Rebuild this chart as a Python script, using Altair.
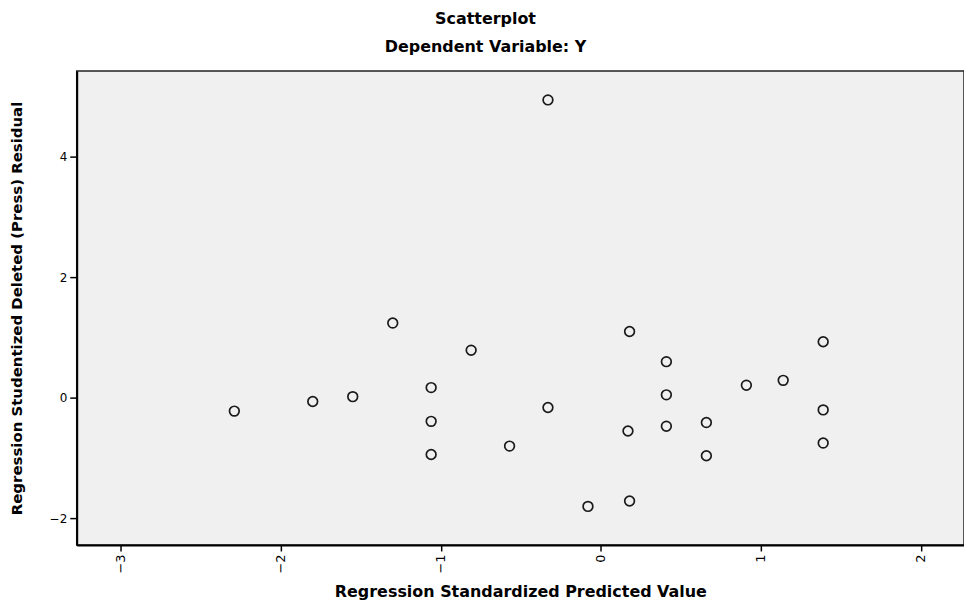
import altair as alt
import pandas as pd

# Regression Standardized Predicted Value
pred = [-0.33, -1.30, -0.81, -1.06, -1.06, -1.06, -2.29, -1.80, -1.55, -0.57,
        -0.33, 0.18, 0.41, 0.41, 0.41, 1.39, 0.91, 1.14, 1.39, 1.39,
        0.66, 0.66, 0.17, -0.08, 0.18]
# Regression Studentized Deleted (Press) Residual
resid = [4.94, 1.24, 0.79, 0.17, -0.39, -0.94, -0.22, -0.06, 0.02, -0.80,
         -0.16, 1.10, 0.60, 0.05, -0.47, 0.93, 0.21, 0.29, -0.20, -0.75,
         -0.41, -0.96, -0.55, -1.80, -1.71]

x_ticks = [-3, -2, -1, 0, 1, 2]
y_ticks = [-2, 0, 2, 4]
x_domain = [-3.275, 2.27]
y_domain = [-2.44, 5.42]

df = pd.DataFrame({"pred": pred, "resid": resid})

FONT = "DejaVu Sans"

points = alt.Chart(df).mark_point(
    filled=False, size=95, strokeWidth=1.7, color="#1a1a1a", opacity=1
).encode(
    x=alt.X(
        "pred:Q",
        scale=alt.Scale(domain=x_domain, nice=False, zero=False),
        axis=alt.Axis(
            values=x_ticks, grid=False, title="Regression Standardized Predicted Value",
            labelAngle=-90, labelFontSize=13, labelPadding=3, tickSize=6,
            titlePadding=11, titleFontSize=16,
        ),
    ),
    y=alt.Y(
        "resid:Q",
        scale=alt.Scale(domain=y_domain, nice=False, zero=False),
        axis=alt.Axis(
            values=y_ticks, grid=False,
            title="Regression Studentized Deleted (Press) Residual",
            labelFontSize=12, labelPadding=3, tickSize=7,
            titlePadding=25, titleFontSize=15,
        ),
    ),
)

chart = points.properties(
    width=891,
    height=476,
    title=alt.TitleParams(
        text="Scatterplot",
        subtitle="Dependent Variable: Y",
        anchor="middle",
        dx=-35,
        offset=16,
        font=FONT,
        fontSize=16,
        fontWeight="bold",
        color="#000000",
        subtitleFont=FONT,
        subtitleFontSize=16,
        subtitleFontWeight="bold",
        subtitleColor="#000000",
        subtitlePadding=12,
    ),
    autosize=alt.AutoSizeParams(type="none"),
    padding={"left": 69, "top": 62, "right": 0, "bottom": 54},
    background="#ffffff",
).configure_view(
    fill="#f0f0f0", stroke="#222222", strokeWidth=1.5
).configure_axis(
    domainColor="#000000", domainWidth=2, tickColor="#000000", tickWidth=1.5,
    labelColor="#000000", labelFont=FONT, titleFont=FONT, titleColor="#000000",
    titleFontWeight="bold",
)

chart.save("out.html", embed_options={"renderer": "svg", "actions": False})
